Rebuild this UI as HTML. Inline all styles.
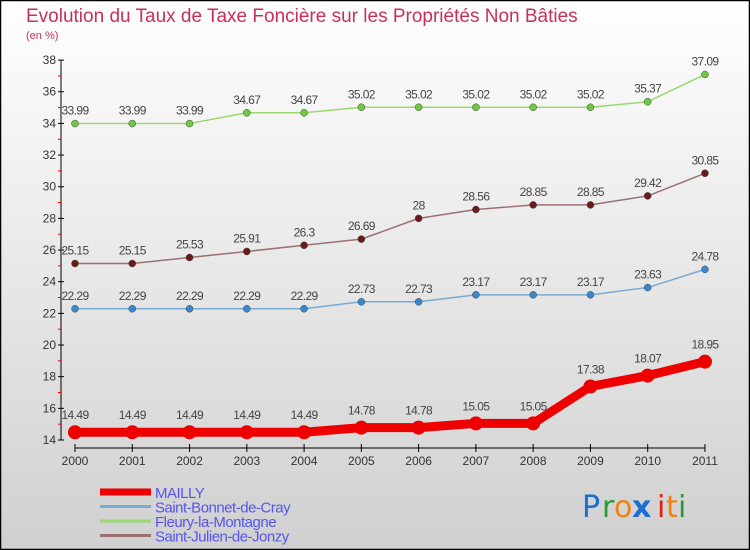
<!DOCTYPE html>
<html><head><meta charset="utf-8"><style>
body{margin:0}
#c{width:750px;height:550px;position:relative;overflow:hidden;font-family:"Liberation Sans",sans-serif}
</style></head><body>
<div id="c">
<svg id="s" width="750" height="550" xmlns="http://www.w3.org/2000/svg">
<defs><linearGradient id="bg" x1="0" y1="0" x2="0" y2="1"><stop offset="0" stop-color="#ffffff"/><stop offset="1" stop-color="#d0d0d0"/></linearGradient></defs>
<rect x="0.5" y="0.5" width="749" height="549" fill="url(#bg)" stroke="#000" stroke-width="1.5"/>
<text x="26" y="22" font-size="19" fill="#c8305a">Evolution du Taux de Taxe Foncière sur les Propriétés Non Bâties</text>
<text x="26" y="39" font-size="11" fill="#c8305a">(en %)</text>
<g id="axes"></g><g id="series"></g><g id="legend"></g>
<g font-size="30" font-family="'DejaVu Sans',sans-serif">
<text x="582" y="517" fill="#1a6fd0">P</text><text x="602" y="517" fill="#2a9a3a">r</text><text x="614" y="517" fill="#f08010">o</text><text x="632" y="517" fill="#1a6fd0" font-weight="bold">x</text><text x="657" y="517" fill="#e02010">i</text><text x="666" y="517" fill="#f08010">t</text><text x="678" y="517" fill="#2a9a3a">i</text>
</g>
</svg>
</div>
<script>
const years=["2000","2001","2002","2003","2004","2005","2006","2007","2008","2009","2010","2011"];
const mailly=[14.49,14.49,14.49,14.49,14.49,14.78,14.78,15.05,15.05,17.38,18.07,18.95];
const bonnet=[22.29,22.29,22.29,22.29,22.29,22.73,22.73,23.17,23.17,23.17,23.63,24.78];
const fleury=[33.99,33.99,33.99,34.67,34.67,35.02,35.02,35.02,35.02,35.02,35.37,37.09];
const julien=[25.15,25.15,25.53,25.91,26.3,26.69,28,28.56,28.85,28.85,29.42,30.85];
const yTicks=[14,16,18,20,22,24,26,28,30,32,34,36,38];
const names=["MAILLY","Saint-Bonnet-de-Cray","Fleury-la-Montagne","Saint-Julien-de-Jonzy"];
const NS="http://www.w3.org/2000/svg";
const x=i=>75+i*57.27;
const y=v=>440-(v-14)*15.83;
function mk(t,a,p){const e=document.createElementNS(NS,t);for(const k in a)e.setAttribute(k,a[k]);p.appendChild(e);return e;}
const ax=document.getElementById('axes');
let l=mk('line',{x1:61,y1:y(38),x2:61,y2:y(14),stroke:'#000'},ax);


yTicks.forEach((t,i)=>{
 mk('line',{x1:58,x2:64,y1:y(t),y2:y(t),stroke:'#000'},ax);
 if(i<yTicks.length-1)mk('line',{x1:58,x2:61,y1:y(t+1),y2:y(t+1),stroke:'#e00'},ax);
 const tx=mk('text',{x:56,y:y(t)+4,'text-anchor':'end','font-size':12,fill:'#333'},ax);tx.textContent=t;
 
 
});
l=mk('line',{x1:x(0),y1:448,x2:x(11),y2:448,stroke:'#000'},ax);


years.forEach((yr,i)=>{
 mk('line',{x1:x(i),x2:x(i),y1:444,y2:452,stroke:'#000'},ax);
 const tx=mk('text',{x:x(i),y:465,'text-anchor':'middle','font-size':12,fill:'#333'},ax);tx.textContent=yr;
 
 
});
const S=document.getElementById('series');
const cfg=[[mailly,'#ee0000','#ee0000',9,7,'mailly'],[bonnet,'#7aaad0','#3a88cc',1.5,3.5,'saint-bonnet-de-cray'],[fleury,'#9ad870','#70c840',1.5,3.5,'fleury-la-montagne'],[julien,'#9a7070','#6a1a1a',1.5,3.5,'saint-julien-de-jonzy']];
cfg.forEach(([d,lc,pc,w,r,n])=>{
 const g=mk('g',{},S);
 
 
 const pl=mk('polyline',{points:d.map((v,i)=>x(i)+','+y(v)).join(' '),fill:'none',stroke:lc,'stroke-width':w,'stroke-linejoin':'round'},g);
 
 
 d.forEach((v,i)=>{
  const c=mk('circle',{cx:x(i),cy:y(v),r:r,fill:pc,stroke:r<5?'#444':'none','stroke-width':0.5},g);
  
  
  const t=mk('text',{x:x(i),y:y(v)-(r<5?9:13),'text-anchor':'middle','font-size':12,fill:'#444','letter-spacing':'-0.6'},g);
  t.textContent=v;
  
  
 });
});
const L=document.getElementById('legend');
const lcol=['#ee0000','#7aaad0','#9ad870','#9a7070'],lw=[7,3,3,3];
names.forEach((nm,i)=>{
 const yy=492+i*14.5;
 const g=mk('g',{},L);
 
 
 mk('line',{x1:100,x2:151,y1:yy,y2:yy,stroke:lcol[i],'stroke-width':lw[i]},g);
 const t=mk('text',{x:155,y:yy+6,'font-size':15,fill:'#5555ee','letter-spacing':'-0.5'},g);t.textContent=nm;
});
</script>
</body></html>
